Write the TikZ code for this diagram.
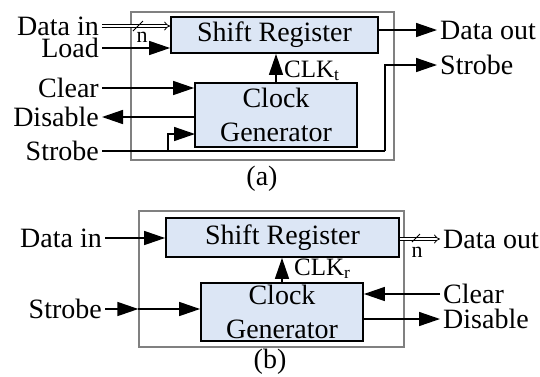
\documentclass[tikz,border=0pt]{standalone}
\usepackage{fontspec}
\setmainfont{Liberation Serif}
\usetikzlibrary{arrows.meta,positioning,calc}
\definecolor{cFill}{HTML}{DCE6F5}
\definecolor{cFrame}{HTML}{808080}
\tikzset{
  >={Triangle[length=21pt,width=14pt]},
  frm/.style   ={draw=cFrame,line width=1.3pt,inner sep=0pt},
  blk/.style   ={draw=black,fill=cFill,line width=1.8pt,inner sep=0pt,
                 align=center,font=\fontsize{28}{34}\selectfont},
  sig/.style   ={font=\fontsize{28}{30}\selectfont,inner xsep=3pt,inner ysep=0pt},
  clk/.style   ={font=\fontsize{25}{27}\selectfont,inner sep=0pt},
  nlbl/.style  ={font=\fontsize{22}{24}\selectfont,inner sep=0pt},
  ar/.style    ={->,line width=1.5pt},
  ln/.style    ={line width=1.5pt},
  bus/.style   ={double,double distance=2.2pt,line width=0.8pt,-{Implies}},
}
\begin{document}
\begin{tikzpicture}[x=1pt,y=-1pt]
\useasboundingbox (0,0) rectangle (540,376);

% (a) transmitter side
\node[frm,minimum width=263pt,minimum height=148pt] (frA) at (262.5,86) {};
\node[blk,minimum width=207pt,minimum height=36pt] (srA) at (274.5,35) {Shift Register};
\node[blk,minimum width=162pt,minimum height=64pt] (cgA) at (276,115) {Clock\\Generator};

\node[sig,anchor=east] (dinA) at (102,26) {Data in};
\node[sig,anchor=east] (ldA)  at (102,48) {Load};
\node[sig,anchor=east] (clrA) at (102,88) {Clear};
\node[sig,anchor=east] (disA) at (102,117) {Disable};
\node[sig,anchor=east] (stA)  at (102,151) {Strobe};
\node[sig,anchor=west] (doA)  at (437,30) {Data out};
\node[sig,anchor=west] (soA)  at (437,65) {Strobe};
\node[clk,anchor=base west] (clkA) at (284,77) {CLK\textsubscript{t}};
\node[nlbl] (nA) at (142,37) {n};

\coordinate (slA) at (138,26);
\coordinate (sBr) at (168,151);
\coordinate (sTurn) at (385,151);
\coordinate (cgAs) at (195,134);

\draw[bus] (dinA.east) -- (dinA.east -| srA.west);
\draw[line width=0.8pt] ([shift={(-5,5)}]slA) -- ([shift={(5,-5)}]slA);
\draw[ar] (ldA.east) -- (ldA.east -| srA.west);
\draw[ar] (clrA.east) -- (clrA.east -| cgA.west);
\draw[ar] (disA.east -| cgA.west) -- (disA.east);
\draw[ln] (stA.east) -- (sTurn);
\draw[ar] (sTurn) |- (soA.west);
\draw[ar] (sBr) |- (cgAs);
\draw[ar] (cgA.north) -- (cgA.north |- srA.south);
\draw[ar] (srA.east |- doA.west) -- (doA.west);

\node[sig] (capA) at (262,179) {(a)};

% (b) receiver side
\node[frm,minimum width=265pt,minimum height=136pt] (frB) at (271.5,279) {};
\node[blk,minimum width=233pt,minimum height=39pt] (srB) at (282.5,237.5) {Shift Register};
\node[blk,minimum width=162pt,minimum height=58pt] (cgB) at (282,312) {Clock\\Generator};

\node[sig,anchor=east] (dinB) at (105,238) {Data in};
\node[sig,anchor=east] (stB)  at (105,309) {Strobe};
\node[sig,anchor=west] (doB)  at (440,239) {Data out};
\node[sig,anchor=west] (clrB) at (440,294) {Clear};
\node[sig,anchor=west] (disB) at (440,319) {Disable};
\node[clk,anchor=base west] (clkB) at (294,275) {CLK\textsubscript{r}};
\node[nlbl] (nB) at (417,252) {n};

\coordinate (slB) at (416,238);

\draw[ar] (dinB.east) -- (dinB.east -| srB.west);
\draw[ar] (stB.east) -- (stB.east -| frB.west);
\draw[ar] (stB.east -| frB.west) -- (stB.east -| cgB.west);
\draw[ar] (cgB.north) -- (cgB.north |- srB.south);
\draw[bus] (srB.east |- doB.west) -- (doB.west);
\draw[line width=0.8pt] ([shift={(-4,4)}]slB) -- ([shift={(4,-4)}]slB);
\draw[ar] (clrB.west) -- (clrB.west -| cgB.east);
\draw[ar] (disB.west -| cgB.east) -- (disB.west);

\node[sig] (capB) at (270,362) {(b)};
\end{tikzpicture}
\end{document}
